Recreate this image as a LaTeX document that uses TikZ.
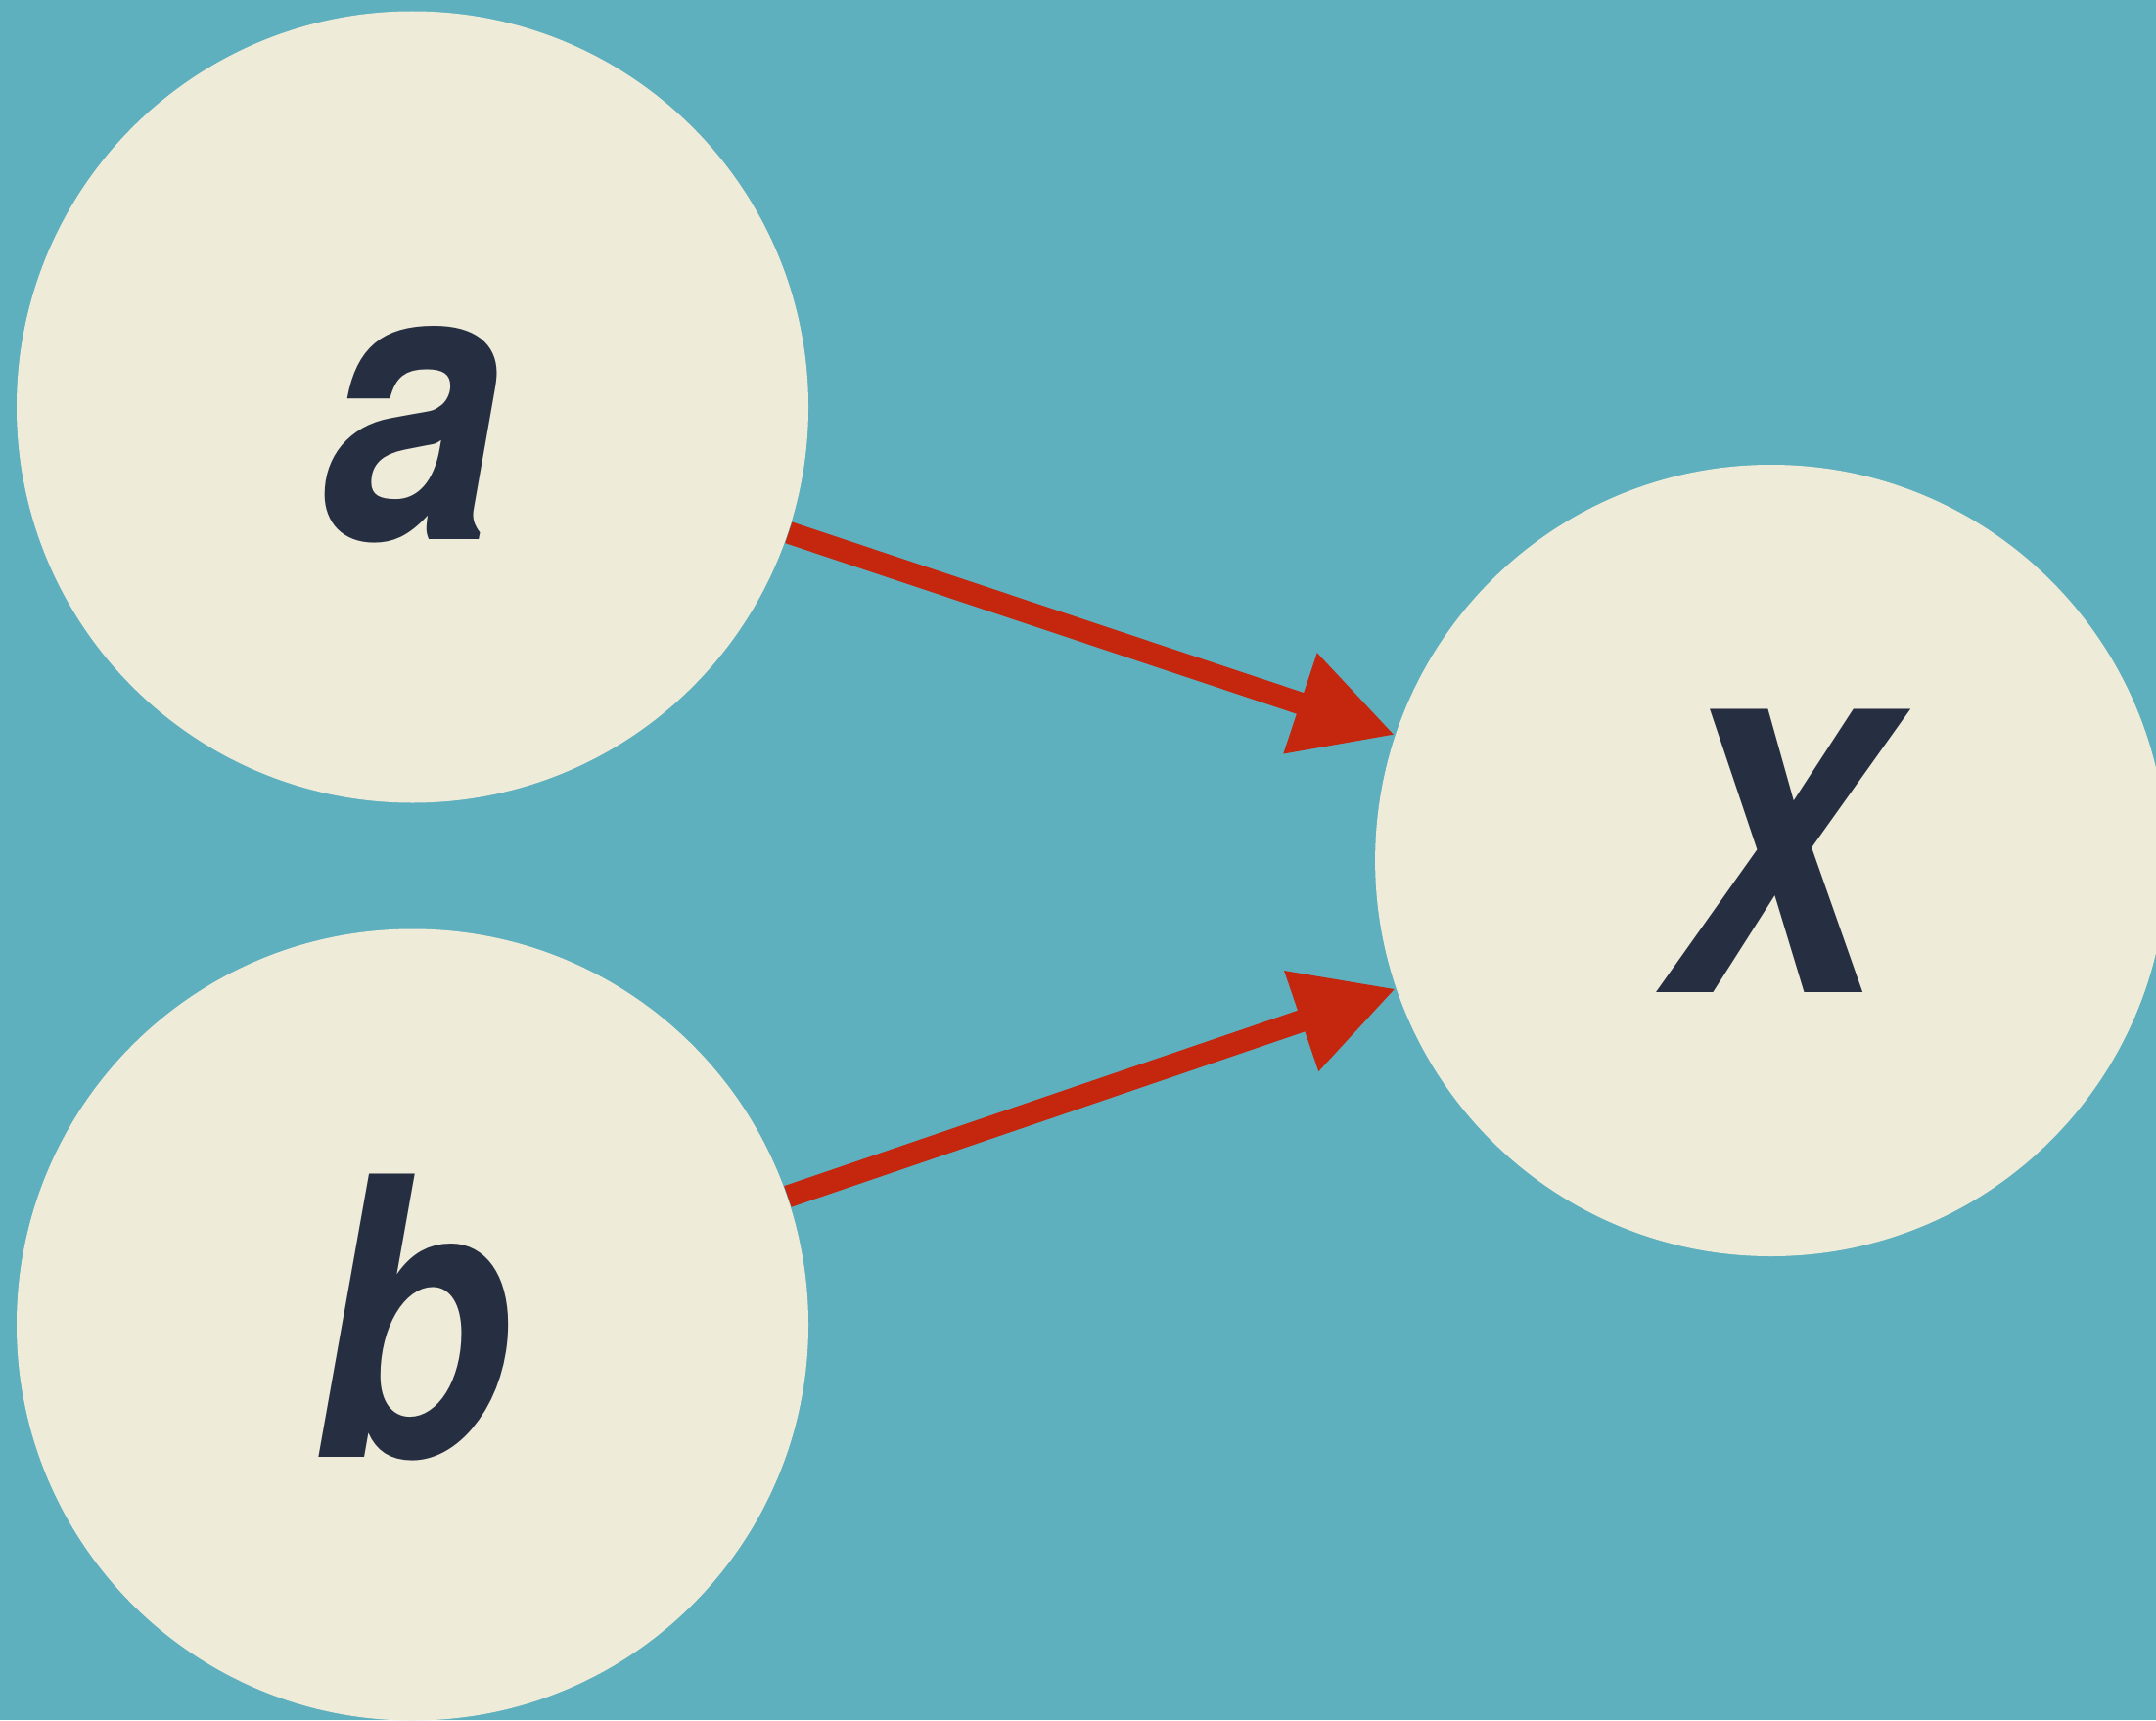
\documentclass[tikz,border=0pt]{standalone}
\usepackage{fontspec}
\setmainfont{TeX Gyre Heros}[FakeStretch = 0.84]
\usetikzlibrary{arrows.meta}
\definecolor{sea}{RGB}{94,176,191}
\definecolor{cream}{RGB}{238,235,217}
\definecolor{ink}{RGB}{38,46,66}
\definecolor{rust}{RGB}{196,39,14}
\tikzset{
    var/.style = {circle, fill = cream, minimum size = 8.09cm, inner sep = 0pt,
        text height = 2.7cm, text depth = 0pt,
        text = ink, font = \fontsize{113pt}{113pt}\selectfont\bfseries\itshape},
    link/.style = {rust, line width = 0.228cm, -{Triangle[length = 1.02cm, width = 1.02cm]}}
}
\begin{document}
\begin{tikzpicture}
    \fill[sea] (0,0) rectangle (22.03,-17.58);
    \useasboundingbox (0,0) rectangle (22.03,-17.58);
    \node[var] (a) at (4.215,-4.16) {a};
    \node[var] (b) at (4.215,-13.54) {b};
    \node[var] (x) at (18.096,-8.795) {X};
    \draw[link] (a) -- (x);
    \draw[link] (b) -- (x);
\end{tikzpicture}
\end{document}
